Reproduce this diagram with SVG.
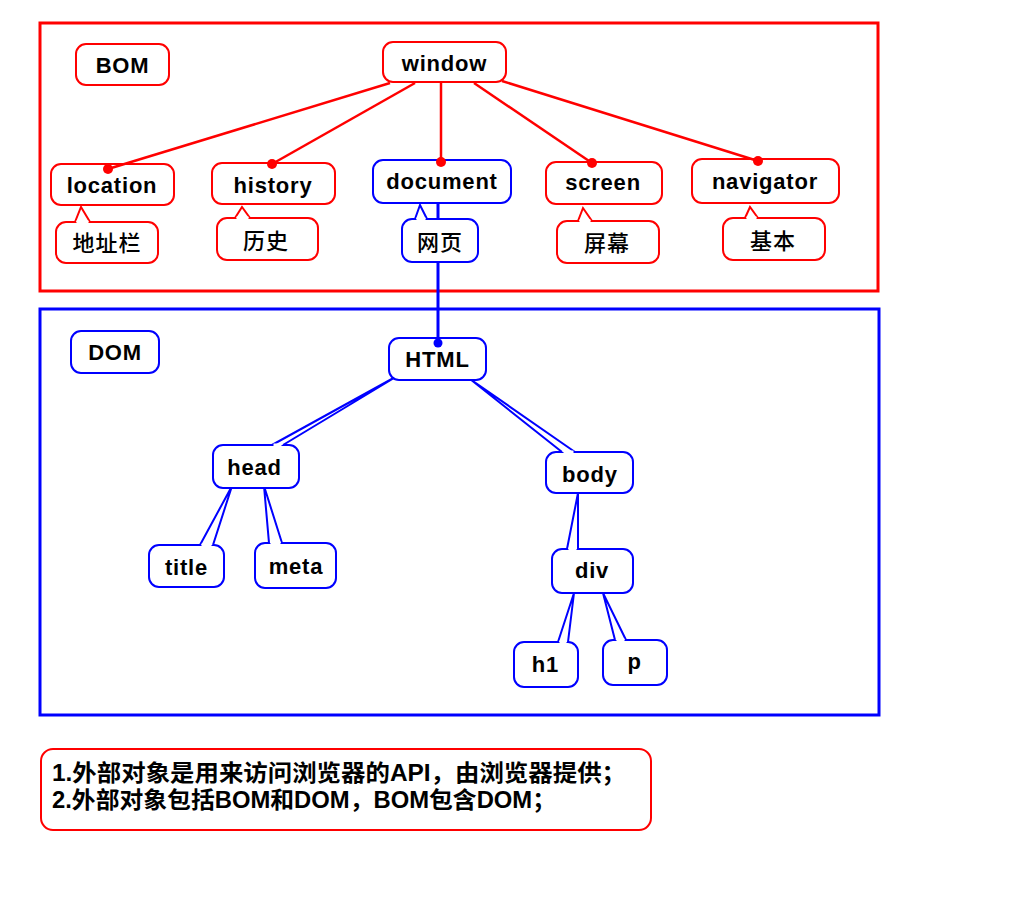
<svg xmlns="http://www.w3.org/2000/svg" width="1024" height="916" viewBox="0 0 1024 916">
  <defs>
    <marker id="dotRed" viewBox="0 0 10 10" refX="5" refY="5" markerWidth="4" markerHeight="4" markerUnits="strokeWidth">
      <circle cx="5" cy="5" r="5" fill="#ff0000"/>
    </marker>
  </defs>
  <style>
    .frame-r { fill: none; stroke: #ff0000; stroke-width: 3; }
    .frame-b { fill: none; stroke: #0000ff; stroke-width: 3; }
    .box-r { fill: #ffffff; stroke: #ff0000; stroke-width: 2; }
    .box-b { fill: #ffffff; stroke: #0000ff; stroke-width: 2; }
    .ptr-r { fill: #ffffff; stroke: #ff0000; stroke-width: 2; stroke-linejoin: miter; }
    .ptr-b { fill: #ffffff; stroke: #0000ff; stroke-width: 2; stroke-linejoin: miter; }
    .gap { stroke: #ffffff; stroke-width: 3; }
    .lbl { font-family: "Liberation Sans", Arial, sans-serif; font-weight: bold; font-size: 22px; letter-spacing: 0.8px; fill: #000000; text-anchor: middle; }
    .zh { font-family: "Noto Sans CJK SC", "Liberation Serif", sans-serif; font-size: 22px; font-weight: 500; letter-spacing: 1px; fill: #000000; text-anchor: middle; }
    .note { font-family: "Liberation Sans", Arial, "Noto Sans CJK SC", sans-serif; font-weight: bold; font-size: 23px; fill: #000000; }
    .link-r { stroke: #ff0000; stroke-width: 2.5; fill: none; marker-end: url(#dotRed); }
    .link-b { stroke: #0000ff; stroke-width: 3; fill: none; }
  </style>

  <!-- outer frames -->
  <rect id="bom-frame" class="frame-r" x="40" y="23" width="838" height="268"/>
  <rect id="dom-frame" class="frame-b" x="40" y="309" width="839" height="406"/>

  <!-- ===== BOM side ===== -->
  <g id="bom-label">
    <rect class="box-r" x="76" y="44" width="93" height="41" rx="10"/>
    <text class="lbl" x="122.5" y="72.5">BOM</text>
  </g>

  <g id="window">
    <rect class="box-r" x="383" y="42" width="123" height="40" rx="10"/>
    <text class="lbl" x="444.5" y="71">window</text>
  </g>

  <g id="location-note">
    <rect class="box-r" x="56" y="222" width="102" height="41" rx="10"/>
    <path class="ptr-r" d="M75,222 L81,207 L90,222"/>
    <line class="gap" x1="76.5" y1="222" x2="88.5" y2="222"/>
    <text class="zh" x="107" y="251">地址栏</text>
  </g>
  <g id="location">
    <rect class="box-r" x="51" y="164" width="123" height="41" rx="10"/>
    <text class="lbl" x="112" y="193">location</text>
  </g>

  <g id="history-note">
    <rect class="box-r" x="217" y="218" width="101" height="42" rx="10"/>
    <path class="ptr-r" d="M235,218 L242,207 L250,218"/>
    <line class="gap" x1="236.5" y1="218" x2="248.5" y2="218"/>
    <text class="zh" x="266" y="249">历史</text>
  </g>
  <g id="history">
    <rect class="box-r" x="212" y="163" width="123" height="41" rx="10"/>
    <text class="lbl" x="273" y="193">history</text>
  </g>

  <g id="document-note">
    <rect class="box-b" x="402" y="219" width="76" height="43" rx="10"/>
    <path class="ptr-b" d="M415,219 L420,205 L427,219"/>
    <line class="gap" x1="416.5" y1="219" x2="425.5" y2="219"/>
    <text class="zh" x="440" y="250">网页</text>
  </g>
  <g id="document">
    <rect class="box-b" x="373" y="160" width="138" height="43" rx="10"/>
    <text class="lbl" x="442" y="189">document</text>
  </g>

  <g id="screen-note">
    <rect class="box-r" x="557" y="221" width="102" height="42" rx="10"/>
    <path class="ptr-r" d="M578,221 L583,208 L592,221"/>
    <line class="gap" x1="579.5" y1="221" x2="590.5" y2="221"/>
    <text class="zh" x="607" y="251">屏幕</text>
  </g>
  <g id="screen">
    <rect class="box-r" x="546" y="162" width="116" height="42" rx="10"/>
    <text class="lbl" x="603" y="190">screen</text>
  </g>

  <g id="navigator-note">
    <rect class="box-r" x="723" y="218" width="102" height="42" rx="10"/>
    <path class="ptr-r" d="M745,218 L750,207 L758,218"/>
    <line class="gap" x1="746.5" y1="218" x2="756.5" y2="218"/>
    <text class="zh" x="773" y="249">基本</text>
  </g>
  <g id="navigator">
    <rect class="box-r" x="692" y="159" width="147" height="44" rx="10"/>
    <text class="lbl" x="765" y="189">navigator</text>
  </g>

  <!-- ===== DOM side (children drawn before parents so parent borders stay on top) ===== -->
  <g id="dom-label">
    <rect class="box-b" x="71" y="331" width="88" height="42" rx="10"/>
    <text class="lbl" x="115" y="360">DOM</text>
  </g>

  <g id="h1">
    <rect class="box-b" x="514" y="642" width="64" height="45" rx="10"/>
    <path class="ptr-b" d="M558,642 L574,593 L568,642"/>
    <line class="gap" x1="559.5" y1="642" x2="566.5" y2="642"/>
    <text class="lbl" x="545.5" y="672">h1</text>
  </g>

  <g id="p">
    <rect class="box-b" x="603" y="640" width="64" height="45" rx="10"/>
    <path class="ptr-b" d="M615,640 L603,593 L626,640"/>
    <line class="gap" x1="616.5" y1="640" x2="624.5" y2="640"/>
    <text class="lbl" x="634.5" y="669">p</text>
  </g>

  <g id="div">
    <rect class="box-b" x="552" y="549" width="81" height="44" rx="10"/>
    <path class="ptr-b" d="M567,549 L578,493 L578,549"/>
    <line class="gap" x1="568.5" y1="549" x2="576.5" y2="549"/>
    <text class="lbl" x="592" y="578">div</text>
  </g>

  <g id="body">
    <rect class="box-b" x="546" y="452" width="87" height="41" rx="10"/>
    <path class="ptr-b" d="M562,452 L470,379 L575,452"/>
    <line class="gap" x1="563.5" y1="452" x2="573.5" y2="452"/>
    <text class="lbl" x="590" y="482">body</text>
  </g>

  <g id="title">
    <rect class="box-b" x="149" y="545" width="75" height="42" rx="10"/>
    <path class="ptr-b" d="M200,545 L232,486 L213,545"/>
    <line class="gap" x1="201.5" y1="545" x2="211.5" y2="545"/>
    <text class="lbl" x="186.5" y="575">title</text>
  </g>

  <g id="meta">
    <rect class="box-b" x="255" y="543" width="81" height="45" rx="10"/>
    <path class="ptr-b" d="M269,543 L264,486 L282,543"/>
    <line class="gap" x1="270.5" y1="543" x2="280.5" y2="543"/>
    <text class="lbl" x="296" y="574">meta</text>
  </g>

  <g id="head">
    <rect class="box-b" x="213" y="445" width="86" height="43" rx="10"/>
    <path class="ptr-b" d="M272,445 L399,375 L283,445"/>
    <line class="gap" x1="273.5" y1="445" x2="281.5" y2="445"/>
    <text class="lbl" x="254.5" y="475">head</text>
  </g>

  <g id="html">
    <rect class="box-b" x="389" y="338" width="97" height="42" rx="10"/>
    <text class="lbl" x="437.5" y="367">HTML</text>
  </g>

  <!-- ===== connectors ===== -->
  <g id="connectors">
    <line class="link-r" x1="390" y1="83" x2="108" y2="169"/>
    <line class="link-r" x1="415" y1="83" x2="272" y2="164"/>
    <line class="link-r" x1="441" y1="82" x2="441" y2="162"/>
    <line class="link-r" x1="474" y1="83" x2="592" y2="163"/>
    <line class="link-r" x1="502" y1="81" x2="758" y2="161"/>
    <line class="link-b" x1="438" y1="203" x2="438" y2="219"/>
    <line class="link-b" x1="438" y1="262" x2="438" y2="342"/>
    <circle cx="438" cy="343" r="4.5" fill="#0000ff"/>
  </g>

  <!-- ===== note ===== -->
  <g id="note">
    <rect class="box-r" x="41" y="749" width="610" height="81" rx="12"/>
    <text class="note" x="52" y="781" textLength="574" lengthAdjust="spacingAndGlyphs">1.外部对象是用来访问浏览器的API，由浏览器提供；</text>
    <text class="note" x="52" y="808" textLength="504" lengthAdjust="spacingAndGlyphs">2.外部对象包括BOM和DOM，BOM包含DOM；</text>
  </g>
</svg>
